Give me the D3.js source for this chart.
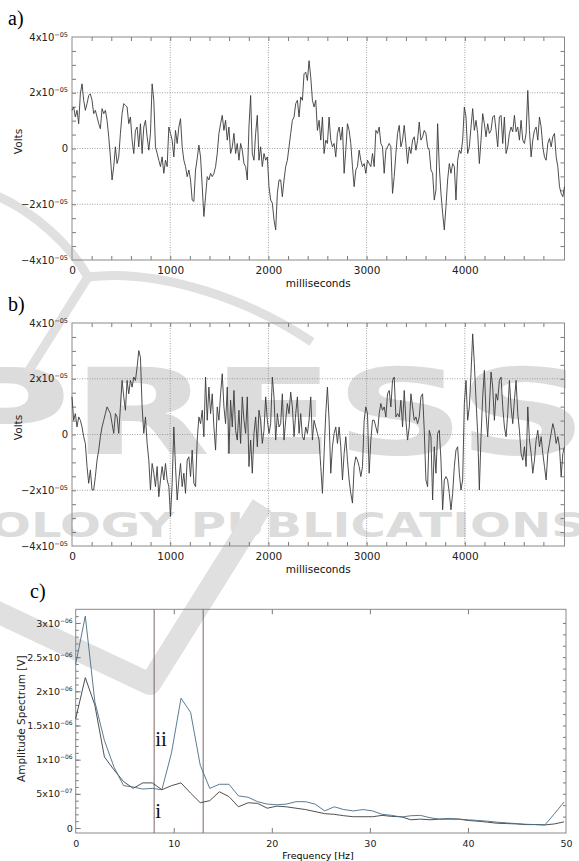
<!DOCTYPE html>
<html>
<head>
<meta charset="utf-8">
<script src="https://cdn.jsdelivr.net/npm/d3@7"></script>
<style>
  body { margin: 0; background: #fff; }
  svg { font-family: "DejaVu Sans", sans-serif; }
</style>
</head>
<body>
<div id="chart"></div>
<script>
// sampling step of the two recordings (ms)
var sampleMs = 17;

// a) recording, in units of 1e-5 V
var voltsA = [
  1.37,1.49,1.13,1.37,0.89,1.96,2.32,1.73,1.37,1.61,
  1.90,1.96,1.73,1.25,1.37,1.13,0.89,0.71,1.43,1.25,
  1.37,1.01,0.42,-0.30,-1.13,-0.65,0.06,-0.54,-0.30,0.54,
  1.25,1.61,1.55,1.49,0.89,1.13,0.30,-0.18,0.65,0.77,
  0.06,0.89,-0.18,0.77,1.01,0.42,-0.06,0.54,2.32,1.73,
  0.06,-0.18,-0.42,-0.65,-0.30,-0.89,-0.42,-0.65,0.77,0.54,
  0.30,-0.30,0.65,0.18,0.77,1.07,0.06,-0.42,-0.65,-1.01,
  -0.77,-1.13,-1.85,-1.90,-0.77,-0.36,0.12,-0.30,-1.37,-2.44,
  -1.73,-1.01,-1.13,-0.89,-1.01,-0.89,-0.65,-0.18,0.54,0.89,
  1.19,0.65,1.01,0.30,0.77,-0.18,0.06,0.54,-0.18,0.18,
  -0.42,0.18,-0.06,-0.54,-0.65,-1.13,0.77,1.90,-0.18,-0.42,
  0.54,1.19,-0.42,0.06,-0.65,-0.18,-0.42,-0.30,-1.37,-1.85,
  -1.96,-2.56,-2.92,-1.61,-1.13,
  -1.13,-1.73,-1.13,-0.65,-0.42,0.06,0.54,1.01,1.13,1.61,
  1.73,1.13,1.85,1.73,2.68,2.74,2.44,3.15,2.56,1.73,
  1.49,1.73,0.65,1.01,0.30,1.13,-0.18,0.30,0.18,1.13,
  0.30,0.06,0.18,-0.30,0.54,0.77,0.30,0.77,-0.89,-0.06,
  0.89,0.65,0.18,-0.65,-1.37,-0.77,-0.65,-0.06,-0.42,-0.65,
  -0.54,-0.89,-0.42,-0.54,-0.65,-0.18,-0.65,0.65,0.54,0.77,
  0.18,0.06,-0.89,-0.06,0.06,0.18,0.06,-1.61,-1.01,-0.18,
  0.54,0.83,0.06,0.30,0.83,0.18,-0.54,0.06,-0.18,0.30,
  0.42,-0.06,0.30,0.95,0.30,0.42,0.65,0.54,0.06,-0.06,
  -0.77,-0.89,-1.85,-1.49,0.89,-0.65,-1.61,-2.32,-2.92,-2.08,
  -1.13,-0.54,-0.89,-0.54,-0.65,-1.85,-0.42,-0.06,-0.18,0.30,
  1.49,1.13,-0.18,0.06,0.77,1.43,0.65,1.01,0.54,-0.54,
  0.30,1.25,0.89,0.42,0.89,0.54,0.65,1.13,1.19,0.65,
  0.06,1.13,1.19,0.18,1.13,-0.18,0.06,0.54,0.77,0.60,
  1.19,0.60,0.77,0.30,1.01,0.30,0.18,0.54,2.08,0.65,
  -0.30,0.30,0.65,0.77,0.30,1.13,0.77,0.06,-0.30,-0.42,
  0.18,0.36,0.06,0.42,0.54,-0.30,-0.65,-1.37,-1.61,-1.73,
  -1.37
];

// b) recording, in units of 1e-5 V
var voltsB = [
  1.35,0.51,0.75,0.27,0.63,0.51,0.27,-0.08,-0.32,-1.15,
  -1.75,-1.27,-1.99,-1.99,-1.51,-0.92,-0.56,-0.08,0.27,0.51,
  0.75,0.99,0.87,0.75,0.39,0.04,0.75,0.63,0.04,0.99,
  1.94,1.35,0.87,1.94,1.46,1.94,1.70,2.06,1.94,2.42,
  3.01,2.77,0.99,0.04,0.63,-0.32,-0.92,-1.99,-1.04,-1.39,
  -1.87,-1.15,-2.23,-1.63,-1.15,-1.63,-1.04,-1.63,-1.87,-2.94,
  -1.75,0.27,-1.15,-2.35,-1.63,-1.04,-1.87,-1.39,-2.11,-0.92,
  -0.80,-1.51,-0.56,-1.75,-1.87,-0.20,0.63,0.39,0.87,-0.08,
  2.06,0.51,1.70,0.75,1.46,0.27,-0.56,0.99,0.51,1.46,
  2.18,0.99,0.39,1.70,-0.68,1.23,0.27,1.58,0.15,-0.20,
  0.87,-0.32,1.35,0.51,0.04,1.35,-1.15,-0.20,-1.39,0.04,
  0.63,-0.44,0.87,0.51,-0.32,0.15,1.35,0.51,0.04,0.39,
  2.06,1.35,-0.20,0.75,0.27,
  0.39,1.46,-0.20,0.51,1.11,0.75,1.52,0.99,-0.08,0.75,
  1.35,0.04,0.75,-0.08,-0.20,0.27,0.04,0.51,1.35,-0.20,
  0.51,0.27,0.04,-0.20,-1.15,-2.11,-0.68,0.75,1.70,0.51,
  -1.39,-0.44,0.04,0.27,-0.32,0.27,-0.44,-1.63,-0.68,-0.08,
  -0.92,-1.63,-2.11,-2.46,-1.15,-0.80,-0.92,-1.15,-1.51,-1.15,
  0.51,0.99,0.75,-1.39,-0.20,0.51,0.51,0.27,0.04,0.75,
  1.11,0.87,0.99,0.63,1.46,1.58,0.99,1.94,2.06,0.63,
  0.75,0.63,1.23,0.27,1.58,0.51,-0.20,0.27,1.46,0.99,
  0.51,0.63,0.39,0.63,1.35,1.46,0.15,-1.63,-1.87,0.15,
  -0.08,-2.35,-0.44,-1.39,0.04,0.15,-0.92,-2.70,-1.63,-1.51,
  -1.63,-2.11,-2.70,-2.11,-1.15,-0.56,-0.44,-1.39,-1.99,-1.63,
  1.11,1.94,0.51,0.99,2.18,3.61,2.54,1.23,0.04,-1.99,
  -0.08,1.35,2.30,0.75,-0.08,0.99,2.24,1.70,0.51,1.46,
  1.23,1.94,2.06,0.99,0.27,-0.08,0.75,1.94,0.99,0.39,
  1.23,1.94,0.75,0.15,-0.68,-0.92,-0.44,-1.15,0.99,-0.20,
  -0.68,-1.39,-0.92,-0.20,0.15,-0.44,-0.08,-0.68,-1.15,-1.63,
  -0.68,-0.32,0.04,0.39,0.15,-0.32,-0.08,-0.44,-1.51,-0.68,
  -0.44
];

// c) amplitude spectra, in units of 1e-6 V
var freqHz = [0,0.98,1.95,2.93,3.91,4.88,5.86,6.84,7.81,8.79,
  9.77,10.74,11.72,12.70,13.67,14.65,15.63,16.60,17.58,18.55,
  19.53,20.51,21.48,22.46,23.44,24.41,25.39,26.37,27.34,28.32,
  29.30,30.27,31.25,32.23,33.20,34.18,35.16,36.13,37.11,38.09,
  39.06,40.04,41.02,41.99,42.97,43.95,44.92,45.90,46.88,47.85,
  48.83,49.80];
var spectrumII = [2.40,3.10,1.85,1.28,0.89,0.62,0.60,0.57,0.58,0.56,
  1.10,1.90,1.69,0.92,0.58,0.64,0.64,0.47,0.45,0.385,
  0.35,0.34,0.35,0.385,0.385,0.35,0.25,0.31,0.27,0.25,
  0.27,0.25,0.20,0.185,0.16,0.18,0.185,0.15,0.13,0.14,
  0.13,0.12,0.11,0.10,0.085,0.075,0.065,0.055,0.05,0.045,
  0.21,0.38];
var spectrumI = [1.60,2.20,1.80,1.04,0.85,0.68,0.58,0.66,0.66,0.56,
  0.62,0.66,0.51,0.37,0.40,0.53,0.46,0.31,0.37,0.36,
  0.29,0.32,0.31,0.29,0.27,0.24,0.21,0.20,0.18,0.165,
  0.165,0.165,0.185,0.17,0.165,0.12,0.13,0.12,0.13,0.13,
  0.13,0.11,0.10,0.085,0.07,0.065,0.06,0.05,0.05,0.045,
  0.06,0.09];
var bandEdgesHz = [8, 13];
var bandLabels = [{ text: "ii", hz: 8, amp: 1.2e-6 }, { text: "i", hz: 8, amp: 0.145e-6 }];

// ticks and their labels
var timeTicks = [0, 1000, 2000, 3000, 4000];
var voltTicks = [-4e-5, -2e-5, 0, 2e-5, 4e-5];
var voltTickLabels = [["\u22124", "\u221205"], ["\u22122", "\u221205"], ["0", ""], ["2", "\u221205"], ["4", "\u221205"]];
var freqTicks = [0, 10, 20, 30, 40, 50];
var ampTicks = [0, 5e-7, 1e-6, 1.5e-6, 2e-6, 2.5e-6, 3e-6];
var ampTickLabels = [["0", ""], ["5", "\u221207"], ["1", "\u221206"], ["1.5", "\u221206"], ["2", "\u221206"], ["2.5", "\u221206"], ["3", "\u221206"]];

var serif = "'Liberation Serif', 'DejaVu Serif', serif";
var W = 579, H = 861;
var svg = d3.select("#chart").append("svg").attr("width", W).attr("height", H);

// publisher watermark behind the plots
var wm = svg.append("g").attr("class", "watermark");
wm.append("text").attr("x", -62).attr("y", 454).attr("font-size", 120).attr("font-weight", "bold")
  .attr("textLength", 650).attr("lengthAdjust", "spacingAndGlyphs").attr("fill", "#dcdcdc").text("PRESS");
wm.append("text").attr("x", -10).attr("y", 537).attr("font-size", 33).attr("font-weight", "bold")
  .attr("textLength", 596).attr("lengthAdjust", "spacingAndGlyphs").attr("fill", "#dcdcdc").text("OLOGY PUBLICATIONS");
var swoosh = wm.append("g").attr("fill", "none").attr("stroke", "#e0e0e0");
swoosh.append("path").attr("stroke-width", 9).attr("d", "M-5,195 C35,212 70,245 88,277 C160,268 250,300 312,342");
swoosh.append("path").attr("stroke-width", 9).attr("d", "M88,277 L28,372");
swoosh.append("path").attr("stroke-width", 22).attr("stroke-linejoin", "round")
  .attr("d", "M-5,611 L150,684 L262,505");

var x = d3.scaleLinear().domain([0, 5015]).range([72, 564.5]);

function sciLabels(axisG, labels, supSize, supShift) {
  axisG.selectAll(".tick text").each(function(d, i) {
    var t = d3.select(this).text(null);
    t.append("tspan").text(labels[i][0] + (labels[i][1] ? "x10" : ""));
    if (labels[i][1]) {
      t.append("tspan").attr("dy", -supShift).attr("font-size", supSize).text(labels[i][1]);
    }
  });
}

function styleTicks(g) {
  g.select(".domain").remove();
  g.selectAll(".tick line").attr("stroke", "#7a7a7a");
  g.selectAll(".tick text").attr("fill", "#222");
}

function tracePanel(volts, top, bottom, letter, letterY) {
  var y = d3.scaleLinear().domain([-4e-5, 4e-5]).range([bottom, top]);
  var g = svg.append("g");

  // dotted grid
  g.selectAll(null).data(timeTicks.slice(1)).join("line")
    .attr("x1", d => x(d)).attr("x2", d => x(d)).attr("y1", top).attr("y2", bottom)
    .attr("stroke", "#8a8a8a").attr("stroke-width", 0.8).attr("stroke-dasharray", "1,1.5");
  g.selectAll(null).data(voltTicks.slice(1, 4)).join("line")
    .attr("x1", x.range()[0]).attr("x2", x.range()[1]).attr("y1", d => y(d)).attr("y2", d => y(d))
    .attr("stroke", "#8a8a8a").attr("stroke-width", 0.8).attr("stroke-dasharray", "1,1.5");

  // inward minor ticks on all four sides
  var minorT = d3.range(200, 5000, 200);
  var minorV = d3.range(-3.5e-5, 3.6e-5, 0.5e-5);
  g.append("g").attr("transform", "translate(0," + bottom + ")")
    .call(d3.axisBottom(x).tickValues(minorT).tickSize(-4).tickFormat("")).call(styleTicks);
  g.append("g").attr("transform", "translate(0," + top + ")")
    .call(d3.axisTop(x).tickValues(minorT).tickSize(-4).tickFormat("")).call(styleTicks);
  g.append("g").attr("transform", "translate(" + x.range()[0] + ",0)")
    .call(d3.axisLeft(y).tickValues(minorV).tickSize(-4).tickFormat("")).call(styleTicks);
  g.append("g").attr("transform", "translate(" + x.range()[1] + ",0)")
    .call(d3.axisRight(y).tickValues(minorV).tickSize(-4).tickFormat("")).call(styleTicks);

  // tick labels
  var xa = g.append("g").attr("transform", "translate(0," + bottom + ")")
    .call(d3.axisBottom(x).tickValues(timeTicks).tickSize(0).tickPadding(7).tickFormat(d3.format("d")))
    .call(styleTicks);
  xa.attr("font-size", 10.5).attr("font-family", null);
  var ya = g.append("g").attr("transform", "translate(" + x.range()[0] + ",0)")
    .call(d3.axisLeft(y).tickValues(voltTicks).tickSize(0).tickPadding(4))
    .call(styleTicks);
  ya.attr("font-size", 10).attr("font-family", null);
  sciLabels(ya, voltTickLabels, 6.5, 4);

  // frame
  g.append("rect").attr("x", x.range()[0]).attr("y", top)
    .attr("width", x.range()[1] - x.range()[0]).attr("height", bottom - top)
    .attr("fill", "none").attr("stroke", "#8a8a8a").attr("stroke-width", 1);

  // trace
  g.append("path").datum(volts)
    .attr("fill", "none").attr("stroke", "#3a3a3a").attr("stroke-width", 0.9)
    .attr("d", d3.line().x((d, i) => x(i * sampleMs)).y(d => y(d * 1e-5)));

  // titles
  g.append("text").attr("transform", "translate(22," + (y(0) - 7) + ") rotate(-90)")
    .attr("text-anchor", "middle").attr("font-size", 10.5).attr("fill", "#222").text("Volts");
  g.append("text").attr("x", (x.range()[0] + x.range()[1]) / 2).attr("y", bottom + 27)
    .attr("text-anchor", "middle").attr("font-size", 10.5).attr("fill", "#111").text("milliseconds");
  g.append("text").attr("x", 8).attr("y", letterY)
    .style("font-family", serif).attr("font-size", 20).attr("fill", "#000").text(letter);
}

tracePanel(voltsA, 37, 260, "a)", 25);
tracePanel(voltsB, 323, 546, "b)", 311);

// c) spectrum panel
(function() {
  var left = 75.7, right = 566, top = 609.3, bottom = 833;
  var xf = d3.scaleLinear().domain([0, 50]).range([left, right]);
  var yf = d3.scaleLinear().domain([-0.073e-6, 3.2e-6]).range([bottom, top]);
  var g = svg.append("g");

  var inner = [10, 20, 30, 40];
  g.append("g").attr("transform", "translate(0," + bottom + ")")
    .call(d3.axisBottom(xf).tickValues(inner).tickSize(-5).tickFormat("")).call(styleTicks);
  g.append("g").attr("transform", "translate(0," + top + ")")
    .call(d3.axisTop(xf).tickValues(inner).tickSize(-5).tickFormat("")).call(styleTicks);
  g.append("g").attr("transform", "translate(" + left + ",0)")
    .call(d3.axisLeft(yf).tickValues(d3.range(1e-7, 3.15e-6, 1e-7)).tickSize(-3).tickFormat("")).call(styleTicks);
  g.append("g").attr("transform", "translate(" + left + ",0)")
    .call(d3.axisLeft(yf).tickValues(ampTicks).tickSize(-5).tickFormat("")).call(styleTicks);
  g.append("g").attr("transform", "translate(" + right + ",0)")
    .call(d3.axisRight(yf).tickValues(d3.range(1.6667e-7, 3.15e-6, 1.6667e-7)).tickSize(-3).tickFormat("")).call(styleTicks);

  var xa = g.append("g").attr("transform", "translate(0," + bottom + ")")
    .call(d3.axisBottom(xf).tickValues(freqTicks).tickSize(0).tickPadding(7).tickFormat(d3.format("d")))
    .call(styleTicks);
  xa.attr("font-size", 9.5).attr("font-family", null);
  var ya = g.append("g").attr("transform", "translate(" + left + ",0)")
    .call(d3.axisLeft(yf).tickValues(ampTicks).tickSize(0).tickPadding(3))
    .call(styleTicks);
  ya.attr("font-size", 9.5).attr("font-family", null);
  sciLabels(ya, ampTickLabels, 6, 4);

  g.append("rect").attr("x", left).attr("y", top).attr("width", right - left).attr("height", bottom - top)
    .attr("fill", "none").attr("stroke", "#8a8a8a").attr("stroke-width", 1);

  // alpha band edges
  g.selectAll(null).data(bandEdgesHz).join("line")
    .attr("x1", d => xf(d)).attr("x2", d => xf(d)).attr("y1", top).attr("y2", bottom)
    .attr("stroke", "#7d6666").attr("stroke-width", 1);

  var line = d3.line().x((d, i) => xf(freqHz[i])).y(d => yf(d * 1e-6));
  g.append("path").datum(spectrumI).attr("fill", "none").attr("stroke", "#3c3c3c").attr("stroke-width", 0.9).attr("d", line);
  g.append("path").datum(spectrumII).attr("fill", "none").attr("stroke", "#4a6c84").attr("stroke-width", 0.9).attr("d", line);

  g.selectAll(null).data(bandLabels).join("text")
    .attr("x", d => xf(d.hz) + 1).attr("y", d => yf(d.amp))
    .style("font-family", serif).attr("font-size", 21).attr("fill", "#111")
    .text(d => d.text);

  g.append("text").attr("transform", "translate(25," + yf(1.6e-6) + ") rotate(-90)")
    .attr("text-anchor", "middle").attr("font-size", 10.5).attr("fill", "#222").text("Amplitude Spectrum [V]");
  g.append("text").attr("x", 318).attr("y", 859)
    .attr("text-anchor", "middle").attr("font-size", 9.5).attr("fill", "#000").text("Frequency [Hz]");
  g.append("text").attr("x", 30).attr("y", 598)
    .style("font-family", serif).attr("font-size", 20).attr("fill", "#000").text("c)");
})();
</script>
</body>
</html>
